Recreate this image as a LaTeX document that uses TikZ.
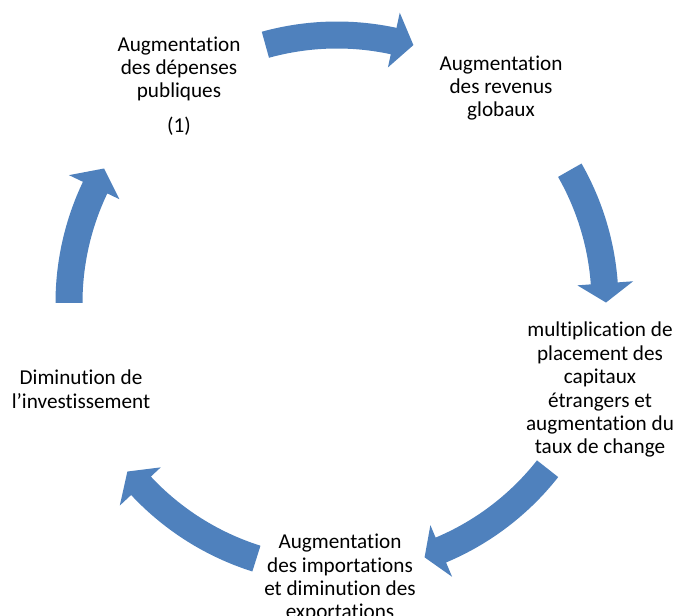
\documentclass[tikz,border=0pt]{standalone}
\usepackage{fontspec}
\setmainfont{Carlito}[Ligatures={NoCommon,NoContextual}]
\definecolor{arrowblue}{HTML}{4F81BD}
\tikzset{
  lbl/.style={align=center, inner sep=0pt, anchor=base, font=\fontsize{21.2}{23.4}\selectfont},
  cyclearrow/.style={fill=arrowblue, draw=none}
}
% #1 tail angle, #2 head base angle, #3 tip angle
\newcommand{\cyclearrowshape}[3]{%
  \fill[cyclearrow] (#1:281.5) arc[start angle=#1, end angle=#2, radius=281.5]
    -- (#2:297) -- (#3:269) -- (#2:241) -- (#2:254.5)
    arc[start angle=#2, end angle=#1, radius=254.5] -- cycle;}
\begin{document}
\begin{tikzpicture}[x=1pt,y=1pt]
\useasboundingbox (0,0) rectangle (675,616);
\begin{scope}[shift={(337,313)}]
  \cyclearrowshape{105.5}{77.8}{73.5}
  \cyclearrowshape{29.7}{4.2}{0.1}
  \cyclearrowshape{-38.2}{-67.2}{-71}
  \cyclearrowshape{-107.5}{-137}{-141.2}
  \cyclearrowshape{180}{154.5}{150}
\end{scope}
% anchor=base sits on the last line's baseline
\node[lbl] (n1) at (179,483) {Augmentation\\des dépenses\\publiques\\[11.6pt](1)};
\node[lbl] (n2) at (501,499) {Augmentation\\des revenus\\globaux};
\node[lbl] (n3) at (600,162) {multiplication de\\placement des\\capitaux\\étrangers et\\augmentation du\\taux de change};
\node[lbl] (n4) at (340,-3) {Augmentation\\des importations\\et diminution des\\exportations};
\node[lbl] (n5) at (81,207.7) {Diminution de\\l’investissement};
\end{tikzpicture}
\end{document}
